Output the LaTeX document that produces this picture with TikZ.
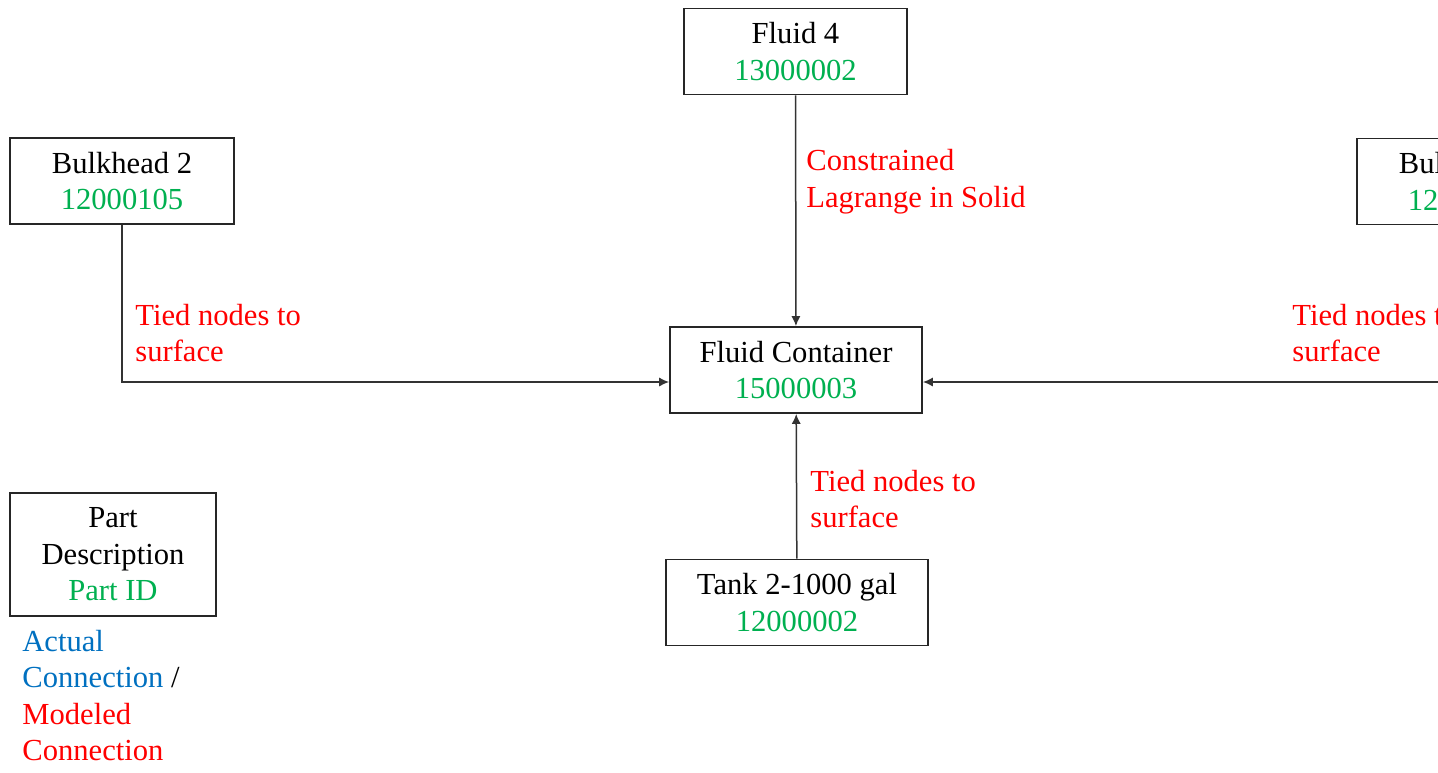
\documentclass[tikz,border=0pt]{standalone}
\usepackage{fontspec}
\setmainfont{Liberation Serif}
\usetikzlibrary{arrows.meta}
\definecolor{idgreen}{RGB}{0,176,80}
\definecolor{modred}{RGB}{255,0,0}
\definecolor{actblue}{RGB}{0,112,192}

\begin{document}
\begin{tikzpicture}[
    x=0.5pt,
    y=-0.5pt,
    part/.style={
        rectangle,
        draw=black!85,
        line width=0.9pt,
        minimum height=43pt,
        align=center,
        inner sep=2pt,
        font=\fontsize{15.3}{18.3}\selectfont
    },
    conn/.style={
        text=modred,
        align=left,
        anchor=west,
        inner sep=0pt,
        font=\fontsize{15.3}{18.3}\selectfont
    },
    arrow/.style={-{Latex[length=5pt,width=4.6pt]}, line width=0.75pt, black!80}
]
\clip (0,0) rectangle (1438,772);

% Part boxes
\node[part, minimum width=111.5pt] (fl4) at (795.5,51.5) {
Fluid 4\\
\textcolor{idgreen}{13000002}
};

\node[part, minimum width=112pt] (bh2) at (122,181) {
Bulkhead 2\\
\textcolor{idgreen}{12000105}
};

\node[part, minimum width=112pt] (bhr) at (1469,181.5) {
Bul\phantom{khead 2}\\
\textcolor{idgreen}{12\phantom{000105}}
};

\node[part, minimum width=126pt] (fc) at (796,370) {
Fluid Container\\
\textcolor{idgreen}{15000003}
};

\node[part, minimum width=131pt] (tank) at (797,602.5) {
Tank 2-1000 gal\\
\textcolor{idgreen}{12000002}
};

% Legend
\node[part, minimum width=103pt, minimum height=61.5pt] (key) at (113,554.5) {
Part\\
Description\\
\textcolor{idgreen}{Part ID}
};

\node[conn, text=black] (keytxt) at (22,695.5) {
\textcolor{actblue}{Actual}\\
\textcolor{actblue}{Connection} /\\
\textcolor{modred}{Modeled}\\
\textcolor{modred}{Connection}
};

% Connections
\draw[arrow] (fl4) -- (fc);
\draw[arrow] (tank) -- (fc);
\draw[arrow] (bh2.south) |- ([yshift=-6pt]fc.west);
\draw[arrow] (bhr.south) |- ([yshift=-6pt]fc.east);

% Connection labels
\node[conn] (lagr) at (806,181.5) {Constrained\\Lagrange in Solid};
\node[conn] (tiedl) at (135,333) {Tied nodes to\\surface};
\node[conn] (tiedr) at (1292,333) {Tied nodes to\\surface};
\node[conn] (tiedb) at (810,499) {Tied nodes to\\surface};

\end{tikzpicture}
\end{document}
